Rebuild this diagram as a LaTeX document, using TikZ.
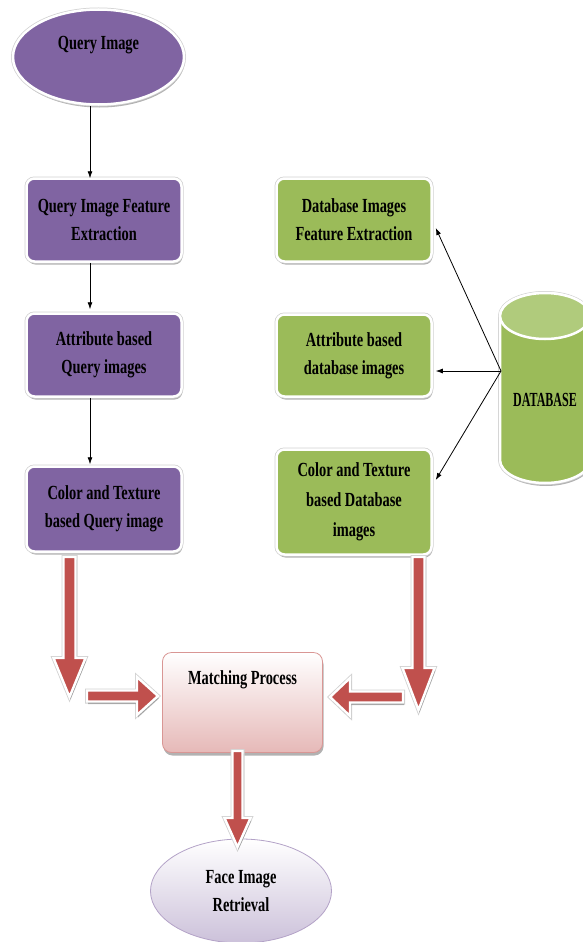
\documentclass[tikz,border=0pt]{standalone}
\usepackage{fontspec}
\setmainfont[FakeStretch=0.72]{Liberation Serif}
\newfontfamily\dbfont[FakeStretch=0.6]{Liberation Serif}
\usetikzlibrary{shapes.geometric,shadows,calc,arrows.meta}
\definecolor{qpurple}{HTML}{8064A2}
\definecolor{dgreen}{HTML}{9BBB59}
\definecolor{dgreenlt}{HTML}{B0CB7C}
\definecolor{bred}{HTML}{C0504D}
\definecolor{pinkbot}{HTML}{E6B9B8}
\definecolor{pinkedge}{HTML}{D99694}
\definecolor{lavbot}{HTML}{CCC1DA}
\definecolor{lavedge}{HTML}{B3A2C7}
\newcommand{\blockarrow}[5]{%
  \coordinate (bh) at ($(#2)!#5!(#1)$);
  \draw[blockarr] ($(#1)!#3!90:(#2)$) -- ($(bh)!#3!90:(#2)$) -- ($(bh)!#4!90:(#2)$) -- (#2)
    -- ($(bh)!#4!-90:(#2)$) -- ($(bh)!#3!-90:(#2)$) -- ($(#1)!#3!-90:(#2)$) -- cycle;
}
\begin{document}
\begin{tikzpicture}[x=1pt,y=-1pt,
  every node/.style={font=\bfseries\fontsize{20}{28}\selectfont, text=black},
  shad/.style={drop shadow={shadow xshift=1pt, shadow yshift=-3pt, fill=black, opacity=0.3}},
  rim/.style={preaction={draw=black!18, line width=4pt}},
  pbox/.style={rectangle, rounded corners=8pt, fill=qpurple, draw=white, line width=2.5pt, shad, rim,
     minimum width=155pt, align=center, inner sep=2pt},
  gbox/.style={pbox, fill=dgreen},
  thinarr/.style={-{Latex[length=7pt,width=5pt]}, line width=0.8pt, black},
  blockarr/.style={fill=bred, draw=white, line width=2.4pt, line join=miter, rim,
     drop shadow={shadow xshift=1pt, shadow yshift=-2.5pt, fill=black, opacity=0.25}}]
\useasboundingbox (0,0) rectangle (582,942);

% top ellipse
\node[ellipse, fill=qpurple, draw=white, line width=2.5pt, shad, rim, minimum width=171pt, minimum height=95pt,
  label={[anchor=north, yshift=-24pt]north:Query Image}] (q) at (98.5,57) {};

% purple boxes
\node[pbox, minimum height=83pt] (p1) at (104,220) {Query Image Feature\\Extraction};
\node[pbox, minimum height=83pt] (p2) at (104,355) {Attribute based\\Query images};
\node[pbox, minimum height=85pt] (p3) at (104,509) {Color and Texture\\based Query image};

% green boxes
\node[gbox, minimum height=83pt] (g1) at (354,220) {Database Images\\Feature Extraction};
\node[gbox, minimum height=82pt] (g2) at (354,355.5) {Attribute based\\database images};
\node[gbox, minimum height=105pt, font=\bfseries\fontsize{20}{30}\selectfont] (g3) at (354,502) {Color and Texture\\based Database\\images};

% database cylinder
\path[fill=dgreen, draw=white, line width=2.5pt, shad, rim] (500,316) -- (500,460)
  arc[x radius=45pt, y radius=23pt, start angle=180, end angle=360] -- (590,316)
  arc[x radius=45pt, y radius=23pt, start angle=0, end angle=180] -- cycle;
\path[fill=dgreenlt, draw=white, line width=2.5pt] (545,316) ellipse[x radius=45pt, y radius=23pt];
\node[font=\dbfont\bfseries\fontsize{20}{24}\selectfont] (db) at (545,400) {DATABASE};
\coordinate (dbin) at (501,371);

% thin arrows
\coordinate (ax) at (90,0);
\draw[thinarr] (q.south -| ax) -- ([yshift=-1pt]p1.north -| ax);
\draw[thinarr] (p1.south -| ax) -- ([yshift=3pt]p2.north -| ax);
\draw[thinarr] (p2.south -| ax) -- ([yshift=1pt]p3.north -| ax);
\draw[thinarr] (dbin) -- ([xshift=3pt,yshift=-8pt]g1.east);
\draw[thinarr] (dbin) -- ([xshift=3pt,yshift=-15.5pt]g2.east);
\draw[thinarr] (dbin) -- ([xshift=3pt,yshift=22pt]g3.east);

% matching process
\node[rectangle, rounded corners=9pt, top color=white, bottom color=pinkbot, draw=pinkedge, line width=0.8pt,
  shad, minimum width=160pt, minimum height=100pt,
  label={[anchor=north, yshift=-15pt]north:Matching Process}] (m) at (242.5,702.5) {};

% face image retrieval
\node[ellipse, top color=white, bottom color=lavbot, draw=lavedge, line width=0.8pt,
  minimum width=181pt, minimum height=104pt, align=center] (f) at (241,891) {Face Image\\Retrieval};

% block arrows
\coordinate (la1) at (69.5,557);  \coordinate (la2) at (69.5,697);
\coordinate (lb1) at (87,696);    \coordinate (lb2) at (158,696);
\coordinate (ra1) at (418.5,557); \coordinate (ra2) at (418.5,710);
\coordinate (rb1) at (403,697);   \coordinate (rb2) at (330,697);
\coordinate (ba1) at (237.5,751); \coordinate (ba2) at (237.5,847);
\blockarrow{la1}{la2}{6pt}{16pt}{39pt}
\blockarrow{lb1}{lb2}{5.5pt}{19pt}{21pt}
\blockarrow{ra1}{ra2}{6pt}{16pt}{42pt}
\blockarrow{rb1}{rb2}{5.5pt}{19pt}{20pt}
\blockarrow{ba1}{ba2}{5pt}{13pt}{29pt}
\end{tikzpicture}
\end{document}
